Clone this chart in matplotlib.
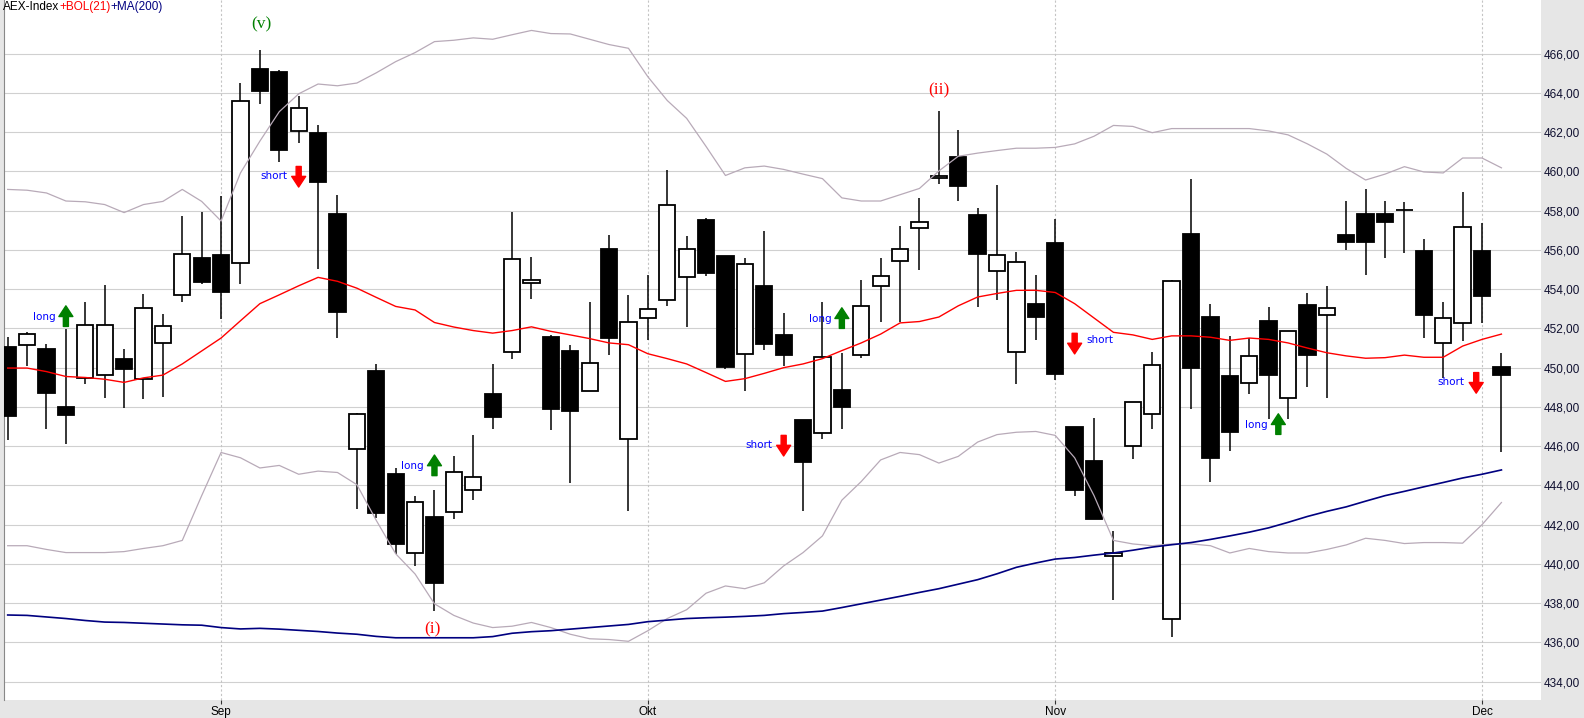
import numpy as np
import pandas as pd
import matplotlib
matplotlib.use("Agg")
import matplotlib.pyplot as plt
from matplotlib.ticker import FuncFormatter

# Handelsdagen AEX, 17 aug t/m 2 dec 2016
dates = pd.bdate_range("2016-08-17", "2016-12-02")

opens = [451.05, 451.14, 450.94, 448.02, 449.46, 449.64, 450.44, 449.44, 451.28, 453.71,
         455.58, 455.74, 455.31, 465.20, 465.07, 462.04, 461.97, 457.81, 445.84, 449.82,
         444.57, 440.56, 442.38, 442.66, 443.79, 448.64, 450.78, 454.31, 451.55, 450.85,
         448.82, 456.03, 446.39, 452.55, 453.46, 454.60, 457.51, 455.69, 450.71, 454.15,
         451.67, 447.32, 446.68, 448.84, 450.67, 454.15, 455.42, 457.10, 459.65, 460.72,
         457.76, 454.92, 450.78, 453.26, 456.33, 447.00, 445.23, 440.43, 446.00, 447.66,
         437.22, 456.81, 452.60, 449.59, 449.23, 452.39, 448.48, 453.17, 452.67, 456.76,
         457.85, 457.85, 458.04, 455.92, 451.28, 452.30, 455.92, 450.05]
highs = [451.55, 451.80, 451.19, 451.96, 453.33, 454.21, 450.94, 453.74, 452.73, 457.72,
         457.92, 458.72, 464.50, 466.18, 465.14, 463.82, 462.38, 458.81, 447.70, 450.19,
         444.89, 443.45, 443.75, 445.50, 446.59, 450.19, 457.92, 455.62, 451.67, 451.14,
         453.33, 456.76, 453.69, 454.71, 460.08, 456.69, 457.60, 455.69, 455.58, 456.97,
         452.78, 447.32, 453.37, 450.73, 454.46, 455.58, 457.22, 458.63, 463.06, 462.11,
         458.13, 459.31, 455.87, 454.71, 457.56, 447.00, 447.43, 441.70, 448.23, 450.78,
         454.47, 459.61, 453.26, 451.60, 451.53, 453.08, 451.85, 453.80, 454.15, 458.47,
         459.08, 458.51, 458.42, 456.58, 453.33, 458.95, 457.35, 450.73]
lows = [446.32, 450.07, 446.89, 446.11, 449.16, 448.46, 447.96, 448.41, 448.53, 453.37,
        454.24, 452.46, 454.24, 463.45, 460.49, 461.43, 455.03, 451.53, 442.81, 442.34,
        440.52, 439.88, 437.60, 442.29, 443.25, 446.89, 450.46, 453.51, 446.84, 444.11,
        448.82, 450.66, 442.70, 451.39, 453.14, 452.08, 454.65, 449.91, 448.82, 450.91,
        450.07, 442.70, 446.39, 446.89, 450.50, 452.35, 452.33, 454.99, 459.38, 458.51,
        453.10, 453.46, 449.19, 451.39, 449.37, 443.47, 442.29, 438.17, 445.36, 446.89,
        436.28, 447.87, 444.18, 445.77, 448.66, 447.39, 447.39, 449.03, 448.43, 455.97,
        454.74, 455.60, 455.85, 451.53, 449.48, 451.37, 452.30, 445.68]
closes = [447.55, 451.71, 448.73, 447.59, 452.19, 452.19, 449.94, 453.03, 452.14, 455.81,
          454.35, 453.87, 463.61, 464.11, 461.11, 463.25, 459.47, 452.85, 447.62, 442.61,
          441.02, 443.18, 439.04, 444.70, 444.45, 447.50, 455.53, 454.49, 447.87, 447.80,
          450.25, 451.53, 452.35, 453.01, 458.31, 456.06, 454.83, 450.03, 455.26, 451.21,
          450.67, 445.20, 450.53, 448.00, 453.12, 454.69, 456.06, 457.40, 459.74, 459.27,
          455.81, 455.72, 455.40, 452.60, 449.69, 443.77, 442.29, 440.56, 448.23, 450.16,
          454.42, 450.00, 445.41, 446.73, 450.57, 449.64, 451.85, 450.67, 453.03, 456.42,
          456.42, 457.44, 458.04, 452.69, 452.51, 457.19, 453.64, 449.62]

bol_upper = [459.08, 459.04, 458.90, 458.49, 458.45, 458.31, 457.90, 458.31, 458.47, 459.08,
             458.47, 457.47, 459.92, 461.54, 463.04, 463.95, 464.45, 464.36, 464.50, 465.02,
             465.59, 466.05, 466.61, 466.68, 466.80, 466.73, 466.96, 467.18, 467.02, 467.00,
             466.73, 466.46, 466.27, 464.82, 463.61, 462.70, 461.27, 459.79, 460.18, 460.27,
             460.10, 459.86, 459.63, 458.65, 458.49, 458.49, 458.81, 459.13, 460.02, 460.77,
             460.93, 461.06, 461.18, 461.18, 461.22, 461.40, 461.79, 462.34, 462.29, 461.97,
             462.18, 462.18, 462.18, 462.18, 462.18, 462.06, 461.86, 461.40, 460.88, 460.15,
             459.56, 459.86, 460.24, 459.97, 459.92, 460.68, 460.68, 460.18]
bol_mid = [449.98, 449.98, 449.80, 449.55, 449.50, 449.41, 449.25, 449.48, 449.62, 450.19,
           450.85, 451.51, 452.39, 453.26, 453.71, 454.17, 454.60, 454.40, 454.05, 453.58,
           453.12, 452.94, 452.30, 452.07, 451.89, 451.76, 451.89, 452.08, 451.85, 451.67,
           451.48, 451.26, 451.17, 450.71, 450.46, 450.19, 449.75, 449.30, 449.44, 449.71,
           450.00, 450.19, 450.46, 450.87, 451.26, 451.71, 452.28, 452.35, 452.58, 453.15,
           453.60, 453.78, 453.94, 453.94, 453.83, 453.26, 452.53, 451.80, 451.67, 451.44,
           451.62, 451.62, 451.55, 451.39, 451.51, 451.44, 451.26, 451.00, 450.76, 450.60,
           450.48, 450.51, 450.64, 450.53, 450.53, 451.10, 451.44, 451.71]
bol_lower = [440.93, 440.93, 440.74, 440.58, 440.58, 440.58, 440.63, 440.79, 440.93, 441.20,
             443.48, 445.68, 445.41, 444.89, 445.02, 444.57, 444.73, 444.66, 444.04, 442.22,
             440.52, 439.49, 437.97, 437.38, 436.99, 436.76, 436.83, 437.02, 436.76, 436.42,
             436.19, 436.15, 436.06, 436.60, 437.22, 437.67, 438.51, 438.88, 438.74, 439.04,
             439.90, 440.58, 441.43, 443.25, 444.20, 445.30, 445.68, 445.57, 445.14, 445.48,
             446.21, 446.59, 446.71, 446.75, 446.55, 445.41, 443.48, 441.20, 441.02, 440.93,
             441.02, 441.02, 440.93, 440.56, 440.79, 440.63, 440.56, 440.56, 440.74, 440.97,
             441.31, 441.20, 441.04, 441.09, 441.09, 441.06, 442.00, 443.13]
ma200 = [437.40, 437.38, 437.30, 437.22, 437.12, 437.04, 437.02, 436.98, 436.94, 436.90,
         436.88, 436.76, 436.69, 436.72, 436.68, 436.62, 436.56, 436.48, 436.42, 436.31,
         436.24, 436.24, 436.24, 436.24, 436.24, 436.30, 436.47, 436.55, 436.60, 436.68,
         436.76, 436.84, 436.92, 437.06, 437.14, 437.22, 437.26, 437.29, 437.33, 437.38,
         437.47, 437.53, 437.60, 437.78, 437.97, 438.16, 438.35, 438.55, 438.74, 438.97,
         439.20, 439.50, 439.83, 440.05, 440.25, 440.33, 440.45, 440.56, 440.70, 440.86,
         440.98, 441.09, 441.25, 441.43, 441.62, 441.84, 442.12, 442.42, 442.68, 442.91,
         443.20, 443.48, 443.70, 443.93, 444.15, 444.38, 444.57, 444.79]

# signalen: (index, koers, tekst)
signals = [(3, 452.6, "long"), (15, 459.7, "short"), (22, 445.0, "long"), (40, 446.0, "short"),
           (43, 452.5, "long"), (55, 451.2, "short"), (65.5, 447.1, "long"), (75.7, 449.2, "short")]
# golftellingen
waves = [(13.1, 467.5, "(v)", "#008000"), (21.9, 436.65, "(i)", "red"), (48.0, 464.1, "(ii)", "red")]

month_names = {9: "Sep", 10: "Okt", 11: "Nov", 12: "Dec"}
lbl_font = "Liberation Sans"

W, H = 1584, 718
fig = plt.figure(figsize=(W / 100, H / 100), dpi=100, facecolor="#e6e6e6")
ax = fig.add_axes([4 / W, 18 / H, 1537 / W, 700 / H])
ax.set_facecolor("white")

x = np.arange(len(dates))
o = np.array(opens)
c = np.array(closes)
up = c >= o

# lontjes, dan de bodies
ax.vlines(x, lows, highs, color="black", lw=1.1, zorder=2)
ax.bar(x, np.abs(c - o), bottom=np.minimum(o, c), width=0.84,
       color=np.where(up, "white", "black"), edgecolor="black", linewidth=1.3, zorder=3)

# indicatoren
ax.plot(x, bol_upper, color="#b8aab8", lw=0.9, zorder=4)
ax.plot(x, bol_lower, color="#b8aab8", lw=0.9, zorder=4)
ax.plot(x, bol_mid, color="red", lw=1.0, zorder=4)
ax.plot(x, ma200, color="#000080", lw=1.2, zorder=4)

# signalen met pijlen
arrow = "simple,head_length=0.55,head_width=0.72,tail_width=0.26"
for i, y, s in signals:
    if s == "long":
        ax.text(i - 0.55, y, s, color="blue", fontsize=7.5, ha="right", va="center", zorder=5)
        ax.annotate("", xy=(i, y + 0.55), xytext=(i, y - 0.5),
                    arrowprops=dict(arrowstyle=arrow, color="#008000", shrinkA=0, shrinkB=0,
                                    mutation_scale=14), zorder=5)
    else:
        ax.annotate("", xy=(i, y - 0.5), xytext=(i, y + 0.55),
                    arrowprops=dict(arrowstyle=arrow, color="red", shrinkA=0, shrinkB=0,
                                    mutation_scale=14), zorder=5)
        if i == 55:
            ax.text(i + 0.6, y + 0.2, s, color="blue", fontsize=7.5, ha="left", va="center", zorder=5)
        else:
            ax.text(i - 0.6, y + 0.05, s, color="blue", fontsize=7.5, ha="right", va="center", zorder=5)

for i, y, s, col in waves:
    ax.text(i, y, s, color=col, fontsize=12.5, family="Liberation Serif", ha="center", va="center", zorder=5)

ax.set_xlim(-0.19, 79.04)
ax.set_ylim(433.07, 468.73)

# maand-gridlijnen
month_idx = [k for k in range(1, len(dates)) if dates[k].month != dates[k - 1].month]
ax.set_xticks(month_idx)
ax.set_xticklabels([month_names[dates[k].month] for k in month_idx], family=lbl_font)
for k in month_idx:
    ax.axvline(k, color="#c4c4c4", lw=0.8, ls=(0, (2, 2)), zorder=1)

ax.set_yticks(np.arange(434, 467, 2))
ax.yaxis.set_major_formatter(FuncFormatter(lambda v, p: f"{v:.2f}".replace(".", ",")))
ax.yaxis.tick_right()
for lab in ax.get_yticklabels():
    lab.set_family(lbl_font)
ax.grid(axis="y", color="#d0d0d0", lw=0.8, zorder=0)
ax.set_axisbelow(True)
ax.tick_params(axis="y", length=0, pad=2, labelsize=8.5, labelcolor="#101030")
ax.tick_params(axis="x", length=3, width=0.8, pad=1, labelsize=8.5, color="#333333")
for side in ["top", "right", "bottom"]:
    ax.spines[side].set_visible(False)
ax.spines["left"].set_color("#888888")

# titel in drie kleuren
fig.canvas.draw()
r = fig.canvas.get_renderer()
xp = 3
for s, col in [("AEX-Index", "black"), ("+BOL(21)", "red"), ("+MA(200)", "#000080")]:
    t = fig.text(xp / W, 1 - 1 / H, s, color=col, fontsize=8.5, family=lbl_font, va="top", ha="left")
    xp += t.get_window_extent(r).width

fig.savefig("out.png", dpi=100, facecolor=fig.get_facecolor())
